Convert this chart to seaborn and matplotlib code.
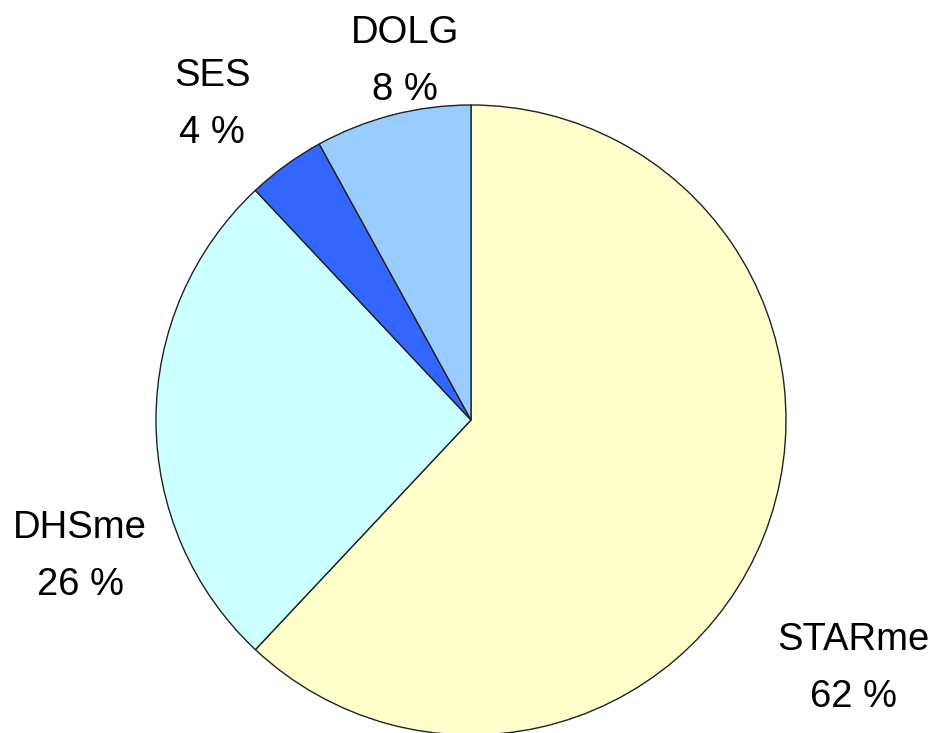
import matplotlib
matplotlib.use('Agg')
import matplotlib.pyplot as plt
import seaborn as sns

names = ['STARme', 'DHSme', 'SES', 'DOLG']
shares = [62, 26, 4, 8]
colors = ['#FFFFCC', '#CCFFFF', '#3366FF', '#99CCFF']

# label anchors (pie radius = 1), placed like the original
label_pos = [(1.215, -0.79), (-1.241, -0.432), (-0.822, 1.003), (-0.21, 1.137)]

sns.set_theme(style='white')
plt.rcParams['font.family'] = ['Liberation Sans', 'DejaVu Sans']

fig = plt.figure(figsize=(9.36, 7.33), dpi=100)
ax = fig.add_axes([0, 0, 1, 1])
ax.pie(shares, colors=colors, startangle=90, counterclock=False,
       wedgeprops=dict(edgecolor='#222222', linewidth=1))
for n, v, (x, y) in zip(names, shares, label_pos):
    ax.text(x, y, f'{n}\n{v} %', ha='center', va='center', fontsize=27.5,
            linespacing=1.75, color='black')
ax.set_xlim(-471 / 315, (936 - 471) / 315)
ax.set_ylim(-(733 - 420) / 315, 420 / 315)
ax.set_aspect('auto')
ax.axis('off')
fig.savefig('out.png', dpi=100, facecolor='white')
